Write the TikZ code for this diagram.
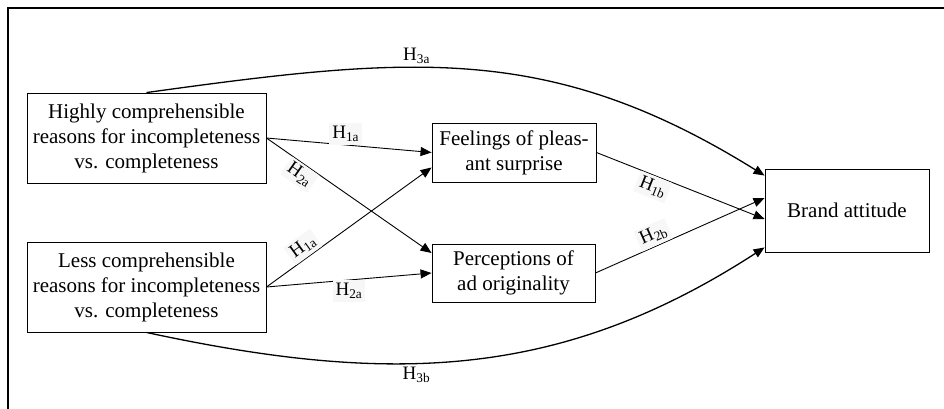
\documentclass[tikz,border=0pt]{standalone}
\usepackage{fontspec}
\setmainfont{Liberation Serif}
\usepackage{tikz}
\usetikzlibrary{arrows.meta, positioning, calc}

\begin{document}
\begin{tikzpicture}[
  x=1pt, y=-1pt,
  font=\fontsize{21}{25}\selectfont,
  var/.style={draw, line width=0.9pt, align=center, inner sep=2pt},
  hyp/.style={font=\fontsize{19}{21}\selectfont, fill=black!3, inner sep=3pt},
  arr/.style={-{Triangle[length=11pt, width=9pt]}, line width=0.9pt},
  bow/.style={-{Triangle[length=11pt, width=9pt]}, line width=1.3pt},
]
\useasboundingbox (0,0) rectangle (944,409);
\draw[line width=2pt] (8,8) rectangle (960,430);

% independent variables
\node[var, minimum width=239pt, minimum height=90pt] (high) at (146.5,138)
  {Highly comprehensible\\reasons for incompleteness\\vs. completeness};
\node[var, minimum width=239pt, minimum height=90pt] (less) at (146.5,287)
  {Less comprehensible\\reasons for incompleteness\\vs. completeness};

% mediators
\node[var, minimum width=164pt, minimum height=59pt] (surp) at (514,152.5)
  {Feelings of pleas-\\ant surprise};
\node[var, minimum width=163pt, minimum height=58pt] (orig) at (513.5,273)
  {Perceptions of\\ad originality};

% outcome
\node[var, minimum width=164pt, minimum height=83pt] (brand) at (847,210.5)
  {Brand attitude};

\draw[arr] (high.east) -- node[hyp, above, pos=0.48] {H\textsubscript{1a}} (surp.west);
\draw[arr] (high.east) -- node[hyp, sloped, below, pos=0.24] {H\textsubscript{2a}} ([yshift=20pt]orig.west);
\draw[arr] (less.east) -- node[hyp, sloped, above, pos=0.26] {H\textsubscript{1a}} ([yshift=-15pt]surp.west);
\draw[arr] (less.east) -- node[hyp, below, pos=0.5] {H\textsubscript{2a}} (orig.west);
\draw[arr] (surp.east) -- node[hyp, sloped, below, pos=0.36] {H\textsubscript{1b}} ([yshift=-8.5pt]brand.west);
\draw[arr] (orig.east) -- node[hyp, sloped, above, pos=0.37] {H\textsubscript{2b}} ([yshift=12.5pt]brand.west);

% direct effects
\draw[bow] (high.north) .. controls (411,56) and (550,42) .. node[hyp, fill=none, above, pos=0.4] {H\textsubscript{3a}} ([yshift=-7pt]brand.north west);
\draw[bow] (less.south) .. controls (390,385) and (560,380) .. node[hyp, fill=none, below, pos=0.41] {H\textsubscript{3b}} ([yshift=5pt]brand.south west);
\end{tikzpicture}
\end{document}
